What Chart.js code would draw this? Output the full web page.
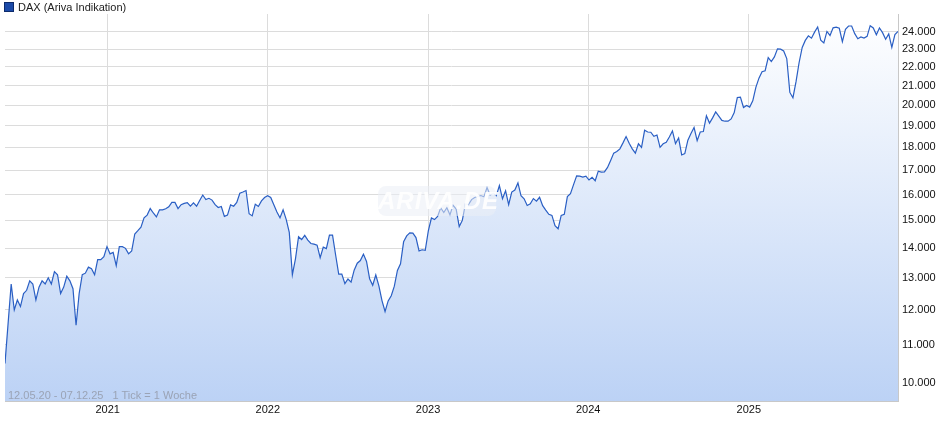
<!DOCTYPE html>
<html><head><meta charset="utf-8">
<script src="https://cdn.jsdelivr.net/npm/chart.js@4"></script>
<style>
body{margin:0;background:#fff;font-family:"Liberation Sans",Arial,sans-serif;}
#wrap{position:relative;width:940px;height:435px;}
#leg{position:absolute;left:4px;top:1px;font-size:11px;color:#222;}
#leg span{display:inline-block;width:8px;height:8px;background:#1b4aa8;border:1px solid #0d2b6b;margin-right:4px;vertical-align:-1px}
#rng{position:absolute;left:8px;top:389px;font-size:11px;color:#9aa3b5;}
#wm{position:absolute;left:378px;top:186px;width:118px;height:30px;border-radius:8px;background:rgba(235,238,245,0.55);font:italic bold 24px "Liberation Sans",Arial;color:rgba(255,255,255,0.9);text-align:center;line-height:30px;letter-spacing:1px}
</style></head><body>
<div id="wrap"><canvas id="c" width="940" height="435"></canvas>
<div id="leg"><span></span>DAX (Ariva Indikation)</div>
<div id="wm">ARIVA.DE</div>
<div id="rng">12.05.20 - 07.12.25 &nbsp;&nbsp;1 Tick = 1 Woche</div>
</div>
<script>
const startDate = "2020-05-12";
const endDate = "2025-12-07";
const yearTicks = [2021, 2022, 2023, 2024, 2025];
const yTicks = [10000,11000,12000,13000,14000,15000,16000,17000,18000,19000,20000,21000,22000,23000,24000];
const daxValues = [10500,11600,12800,12000,12300,12100,12500,12600,12900,12800,12300,12700,12900,12800,13000,12800,13200,13100,12500,12700,13050,12900,12650,11550,12500,13100,13150,13350,13300,13100,13600,13600,
13700,14050,13800,13850,13400,14050,14050,13990,13800,13900,14500,14620,14750,15100,15200,15450,15280,15130,15400,15400,15440,15520,15690,15690,15450,15600,15650,15680,15540,15670,15540,15760,15980,15800,15850,15780,15600,15490,15530,15150,15200,15590,15540,15690,16050,16100,16160,15250,15170,15620,15530,15750,15880,
15950,15880,15600,15320,15100,15400,15040,14560,13100,13630,14400,14300,14450,14280,14160,14140,14100,13670,14030,13980,14460,14460,13760,13120,13120,12810,12960,12860,13250,13480,13570,13790,13540,12970,12760,13090,12740,12280,11950,12270,12430,12730,13240,13460,14220,14430,14540,14530,14370,13900,13940,13920,
14610,15090,15030,15150,15480,15300,15480,15210,15580,15430,14770,15000,15630,15600,15800,15880,15920,15960,15910,16280,15980,16050,15950,16360,15830,16150,15600,16100,16180,16470,15950,15830,15570,15630,15840,15740,15890,15560,15390,15230,15190,14800,14690,15190,15230,15920,16030,16400,16760,16750,16710,16750,
16590,16700,16560,16960,16920,16930,17120,17420,17740,17810,17930,18200,18490,18180,17930,17740,18160,18000,18780,18700,18690,18500,18560,18000,18160,18230,18470,18750,18170,18420,17660,17720,18320,18630,18910,18300,18700,18720,19470,19120,19370,19660,19460,19250,19210,19210,19320,19630,20380,20400,19880,19980,
19900,20210,20900,21390,21730,21790,22510,22290,22550,23010,22990,22890,22460,20640,20370,21200,22240,23090,23500,23770,23630,23990,24300,23520,23350,24030,23790,24250,24290,24220,23430,24160,24360,24360,23900,23600,23700,23640,23740,24380,24240,23830,24240,23960,23570,23880,23090,23840,24030];

const n = daxValues.length;
const t0 = Date.parse(startDate), t1 = Date.parse(endDate);
const yearPos = yearTicks.map(y => (Date.parse(y+"-01-01")-t0)/(t1-t0)*(n-1));
const pts = daxValues.map((v,i)=>({x:i,y:v}));
const fmt = v => Math.round(v).toString().replace(/\B(?=(\d{3})+(?!\d))/g,".");

const ctx = document.getElementById('c').getContext('2d');
const grad = ctx.createLinearGradient(0,14,0,401);
grad.addColorStop(0,'rgba(255,255,255,1)');
grad.addColorStop(1,'rgba(188,210,245,1)');

new Chart(ctx,{
  type:'line',
  data:{datasets:[{data:pts,borderColor:'#2a5fc4',borderWidth:1.2,pointRadius:0,fill:'start',backgroundColor:grad,tension:0}]},
  options:{
    responsive:false,animation:false,
    layout:{padding:{top:14,left:5,right:0,bottom:0}},
    plugins:{legend:{display:false},tooltip:{enabled:false}},
    scales:{
      x:{type:'linear',min:0,max:n-1,
        afterBuildTicks:s=>{s.ticks=yearPos.map(v=>({value:v}));},
        afterFit:s=>{s.height=34;},
        ticks:{callback:(v,i)=>String(yearTicks[i]),color:'#111',font:{size:11,family:'Liberation Sans'},maxRotation:0,autoSkip:false,padding:2},
        grid:{color:'#dcdcdc',drawTicks:false},border:{color:'#c8c8c8'}},
      y:{type:'logarithmic',position:'right',min:9560,max:25100,
        afterBuildTicks:s=>{s.ticks=yTicks.map(v=>({value:v}));},
        afterFit:s=>{s.width=42;},
        ticks:{callback:v=>fmt(v),color:'#111',font:{size:11,family:'Liberation Sans'},padding:4},
        grid:{color:'#dcdcdc',drawTicks:false},border:{color:'#c8c8c8'}}
    }
  }
});
</script></body></html>
